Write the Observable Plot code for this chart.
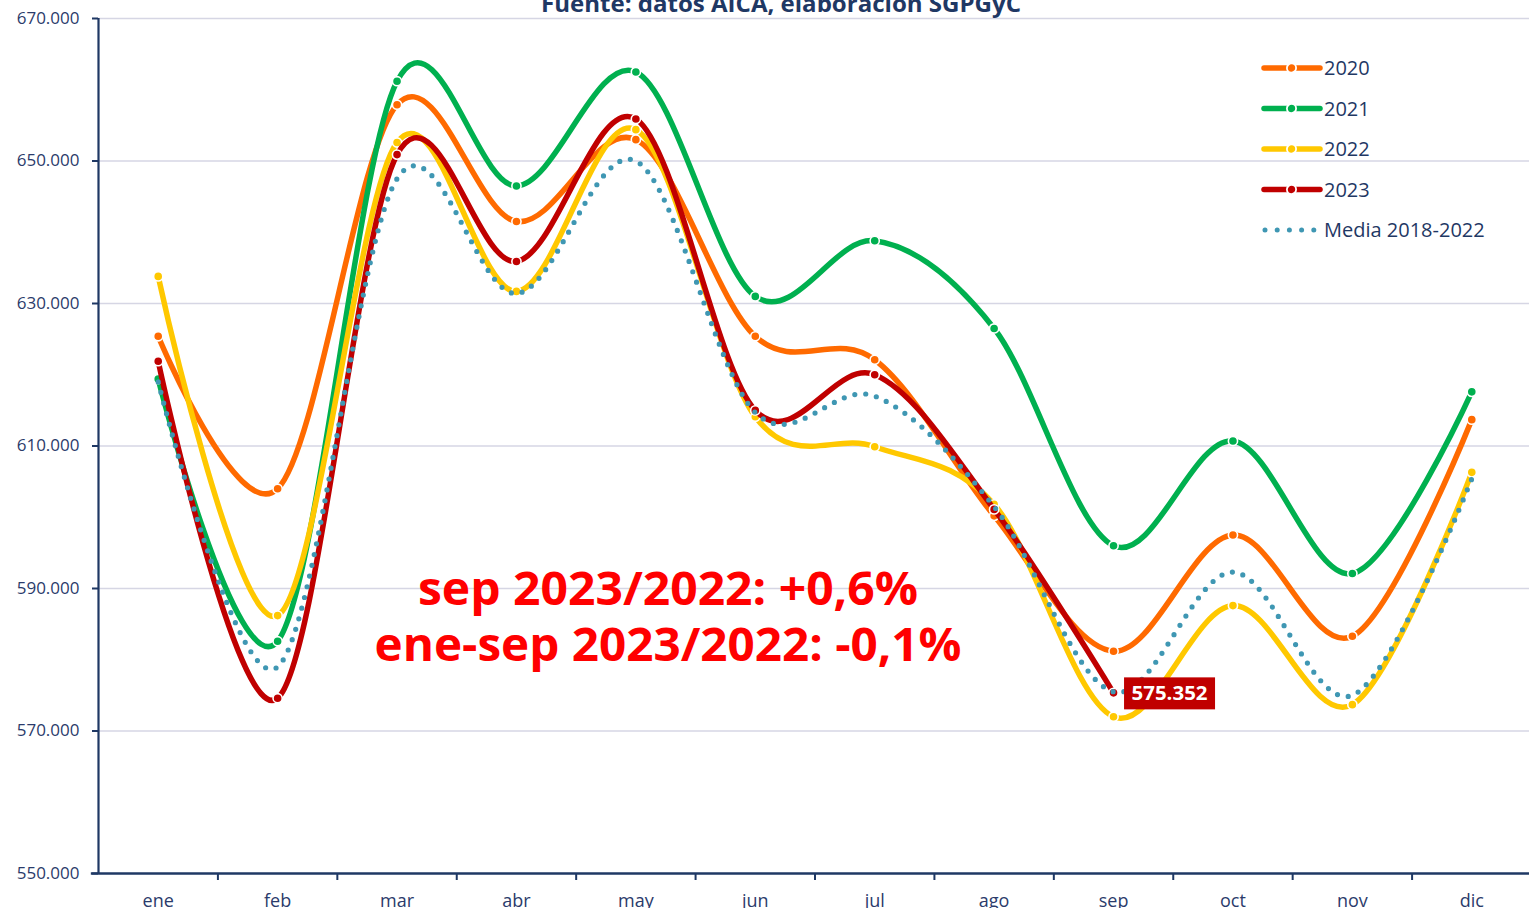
<!DOCTYPE html>
<html>
<head>
<meta charset="utf-8">
<script src="https://cdn.jsdelivr.net/npm/d3@7"></script>
<script src="https://cdn.jsdelivr.net/npm/@observablehq/plot@0.6"></script>
<style>
  html, body { margin: 0; padding: 0; background: #fff; overflow: hidden; }
  #wrap { position: relative; width: 1529px; height: 908px; }
  #overlay { position: absolute; left: 0; top: 0; pointer-events: none; }
  svg { font-family: "Open Sans", "Noto Sans", sans-serif; }
</style>
</head>
<body>
<div id="wrap"><div id="chart"></div></div>
<script>
// ---- data ----
const months = ["ene","feb","mar","abr","may","jun","jul","ago","sep","oct","nov","dic"];
const y2020 = [625400, 604000, 657900, 641500, 653000, 625400, 622100, 600200, 581200, 597500, 583300, 613700];
const y2021 = [619400, 582600, 661200, 646500, 662500, 631000, 638800, 626500, 596000, 610700, 592100, 617600];
const y2022 = [633800, 586200, 652600, 631700, 654400, 614100, 609900, 601800, 572000, 587600, 573700, 606300];
const y2023 = [621900, 574600, 650900, 635900, 655900, 615000, 620000, 601100, 575352];
const media = [619000, 579000, 647500, 631400, 650000, 614700, 617000, 601500, 575500, 592300, 575000, 605400];
const yTicks = [550000, 570000, 590000, 610000, 630000, 650000, 670000];
const seriesNames = ["2020", "2021", "2022", "2023", "Media 2018-2022"];
const colors = { "2020": "#FF6A00", "2021": "#00B04F", "2022": "#FFC800", "2023": "#C00000", "Media 2018-2022": "#3F97B3" };
const title = "Fuente: datos AICA, elaboración SGPGyC";
const notes = ["sep 2023/2022: +0,6%", "ene-sep 2023/2022: -0,1%"];
const lastLabelIndex = 8;

// ---- build ----
const rows = (name, arr) => arr.map((v, i) => ({ name, i, v }));
const d2020 = rows("2020", y2020), d2021 = rows("2021", y2021), d2022 = rows("2022", y2022),
      d2023 = rows("2023", y2023), dMedia = rows("Media 2018-2022", media);

const locale = d3.formatLocale({ decimal: ",", thousands: ".", grouping: [3], currency: ["", ""] });
const fmt = locale.format(",");
const navy = "#1F3864";
const textCol = "#2B3B6B";

const yearLine = (data) => [
  Plot.line(data, { x: "i", y: "v", stroke: colors[data[0].name], strokeWidth: 5.5, curve: "cardinal", tension: 0, strokeLinecap: "round" }),
  Plot.dot(data, { x: "i", y: "v", r: 4.6, fill: colors[data[0].name], stroke: "white", strokeWidth: 1.6 })
];

const chart = Plot.plot({
  width: 1529, height: 908,
  marginLeft: 98, marginRight: 0, marginTop: 18, marginBottom: 35,
  style: { fontFamily: "'Open Sans', 'Noto Sans', sans-serif", background: "white" },
  x: { domain: [-0.5, 11.5], range: [98, 1531], axis: null },
  y: { domain: [550000, 670000], axis: null },
  marks: [
    Plot.ruleY(yTicks.slice(1), { stroke: "#D6D6E4", strokeWidth: 1.3, x1: -0.5, x2: 11.5 }),
    Plot.axisY({ ticks: yTicks, tickFormat: fmt, tickSize: 6, tickPadding: 13, fontSize: 17, color: textCol, stroke: navy, strokeWidth: 2, label: null }),
    Plot.axisX({ ticks: d3.range(0.5, 11, 1), tickFormat: () => "", tickSize: 7, stroke: navy, strokeWidth: 2, label: null }),
    Plot.axisX({ ticks: d3.range(0, 12), tickFormat: (i) => months[i], tickSize: 0, tickPadding: 21, fontSize: 18, color: textCol, label: null }),
    Plot.ruleX([-0.5], { stroke: navy, strokeWidth: 2.2 }),
    Plot.ruleY([550000], { stroke: navy, strokeWidth: 2.5, x1: -0.56, x2: 11.5 }),
    ...yearLine(d2020),
    ...yearLine(d2021),
    ...yearLine(d2022),
    ...yearLine(d2023),
    Plot.line(dMedia, { x: "i", y: "v", stroke: colors["Media 2018-2022"], strokeWidth: 5.2, curve: "cardinal", tension: 0, strokeDasharray: "0 11", strokeLinecap: "round" })
  ]
});
document.getElementById("chart").appendChild(chart);

// ---- overlay: title, notes, value label, legend ----
const sx = chart.scale("x"), sy = chart.scale("y");
const ov = d3.select("#wrap").append("svg").attr("id", "overlay").attr("width", 1529).attr("height", 908);

ov.append("text").attr("x", 781).attr("y", 12).attr("text-anchor", "middle")
  .attr("font-size", 23).attr("font-weight", 700).attr("fill", navy)
  .attr("textLength", 480).attr("lengthAdjust", "spacingAndGlyphs").text(title);

ov.append("text").attr("x", 668).attr("y", 605).attr("text-anchor", "middle")
  .attr("font-size", 46).attr("font-weight", 700).attr("fill", "#FF0000")
  .attr("textLength", 500).attr("lengthAdjust", "spacingAndGlyphs").text(notes[0]);
ov.append("text").attr("x", 668).attr("y", 661).attr("text-anchor", "middle")
  .attr("font-size", 46).attr("font-weight", 700).attr("fill", "#FF0000")
  .attr("textLength", 587).attr("lengthAdjust", "spacingAndGlyphs").text(notes[1]);

const px = sx.apply(lastLabelIndex), py = sy.apply(y2023[lastLabelIndex]);
ov.append("rect").attr("x", px + 11).attr("y", py - 15).attr("width", 91).attr("height", 32).attr("fill", "#C00000");
ov.append("text").attr("x", px + 56.5).attr("y", py + 8).attr("text-anchor", "middle")
  .attr("font-size", 20).attr("font-weight", 700).attr("fill", "white")
  .attr("textLength", 76).attr("lengthAdjust", "spacingAndGlyphs").text(fmt(y2023[lastLabelIndex]));

const lg = ov.append("g").attr("transform", "translate(1262,68)");
seriesNames.forEach((name, k) => {
  const g = lg.append("g").attr("transform", `translate(0,${k * 40.5})`);
  const c = colors[name];
  if (name.startsWith("Media")) {
    g.append("line").attr("x1", 3).attr("x2", 55).attr("y1", 0).attr("y2", 0)
      .attr("stroke", c).attr("stroke-width", 5).attr("stroke-linecap", "round").attr("stroke-dasharray", "0 12.2");
  } else {
    g.append("line").attr("x1", 2).attr("x2", 58).attr("y1", 0).attr("y2", 0)
      .attr("stroke", c).attr("stroke-width", 5.5).attr("stroke-linecap", "round");
    g.append("circle").attr("cx", 29.5).attr("cy", 0).attr("r", 4.6).attr("fill", c).attr("stroke", "white").attr("stroke-width", 1.8);
  }
  g.append("text").attr("x", 62).attr("y", 7).attr("font-size", 20).attr("fill", navy).text(name);
});
</script>
</body>
</html>
